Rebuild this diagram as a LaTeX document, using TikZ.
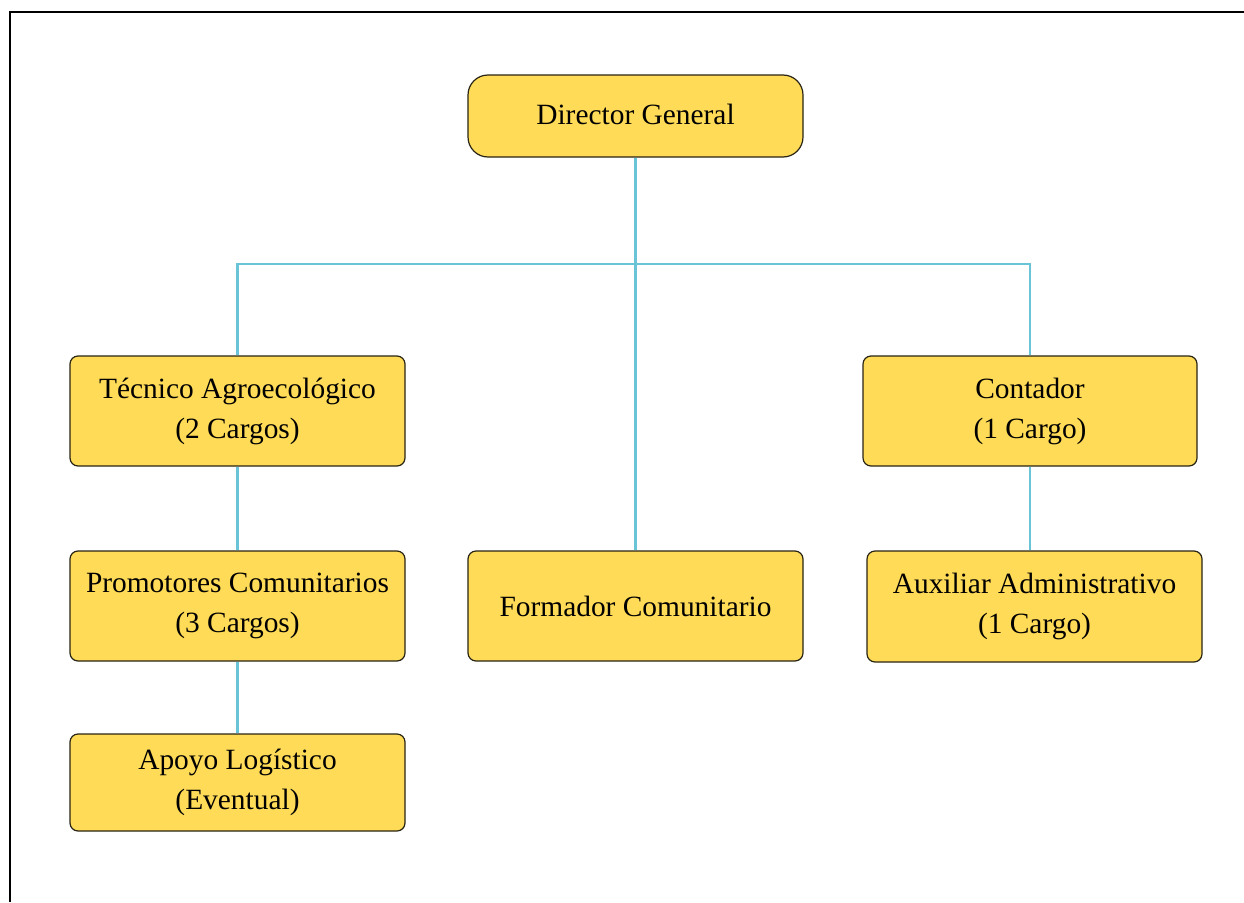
\documentclass[tikz,border=0pt]{standalone}
\usepackage{fontspec}
\setmainfont{Liberation Serif}
\definecolor{boxfill}{RGB}{255,219,88}
\definecolor{boxline}{RGB}{40,36,20}
\definecolor{conn}{RGB}{104,196,214}
\begin{document}
\begin{tikzpicture}[x=1pt,y=-1pt,
  orgbox/.style={draw=boxline, line width=1.2pt, fill=boxfill, rounded corners=8pt,
    minimum width=335pt, minimum height=110pt, align=center, inner sep=0pt,
    font=\fontsize{29.4}{40}\selectfont},
  link/.style={draw=conn, line width=2.6pt}]
\useasboundingbox (0,0) rectangle (1244,902);
\draw[line width=2.6pt, black] (10,902) -- (10,12) -- (1244,12);

\node[orgbox, minimum height=82pt, rounded corners=20pt] (dir) at (635.5,116) {\raisebox{4pt}{Director General}};
\node[orgbox] (tec) at (237.5,411) {Técnico Agroecológico\\(2 Cargos)};
\node[orgbox, minimum width=334pt] (cont) at (1030,411) {Contador\\(1 Cargo)};
\node[orgbox] (prom) at (237.5,606) {Promotores Comunitarios\\(3 Cargos)};
\node[orgbox] (form) at (635.5,606) {Formador Comunitario};
\node[orgbox, minimum height=111pt] (aux) at (1034.5,606.5) {Auxiliar Administrativo\\(1 Cargo)};
\node[orgbox, minimum height=97pt] (apoyo) at (237.5,782.5) {Apoyo Logístico\\(Eventual)};

\coordinate (bar) at (635.5,264);
\draw[link] (dir.south) -- (form.north);
\draw[link] (tec.north) |- (bar) -| (cont.north);
\draw[link] (tec.south) -- (prom.north);
\draw[link] (prom.south) -- (apoyo.north);
\draw[link] (cont.south) -- (cont.south |- aux.north);
\end{tikzpicture}
\end{document}
